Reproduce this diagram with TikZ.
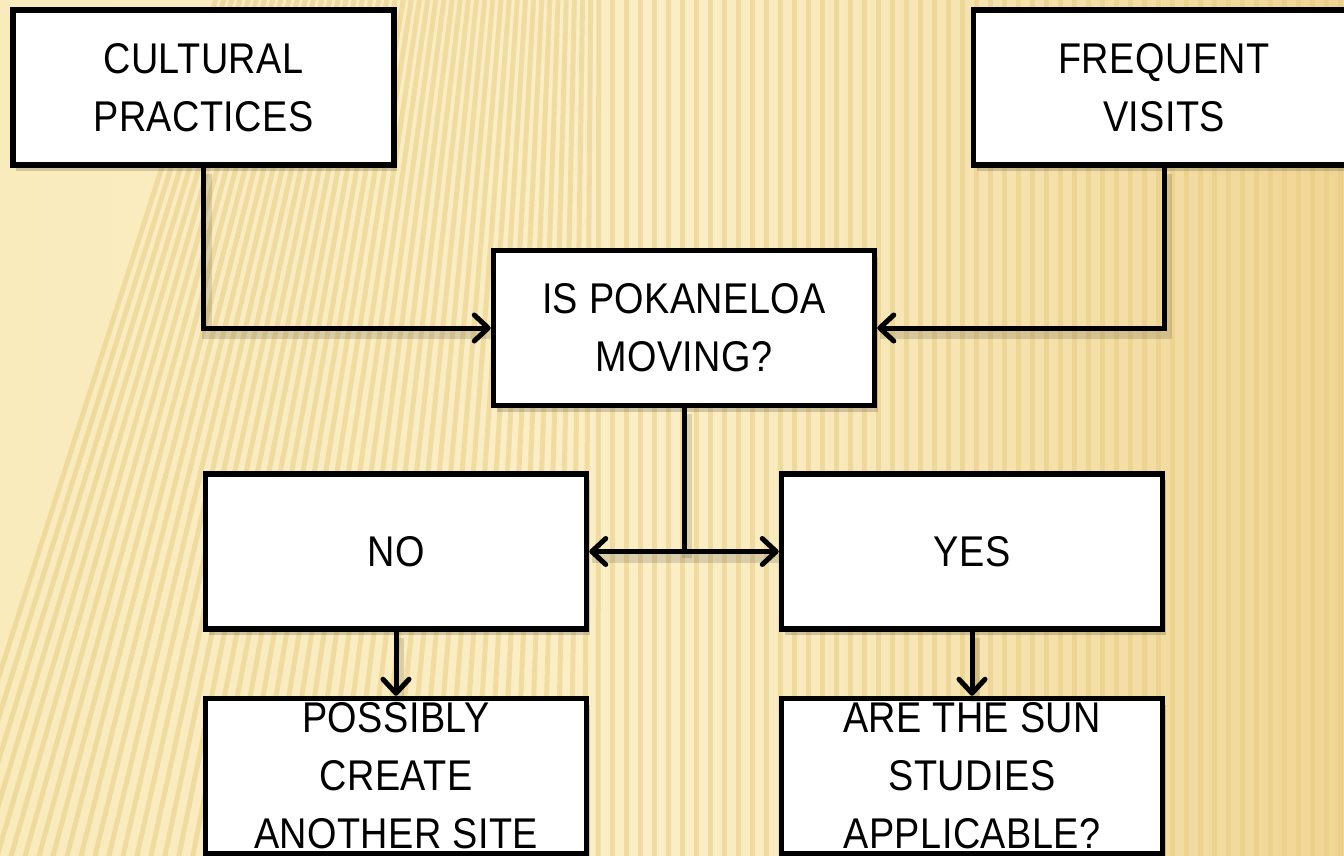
\documentclass[tikz,border=0pt]{standalone}
\usepackage{fontspec}
\newfontfamily\boxfont{Liberation Sans}[FakeStretch=0.88,LetterSpace=1]
\usetikzlibrary{arrows.meta,shadows}
\definecolor{bgL}{HTML}{FAEBBD}
\definecolor{bgM}{HTML}{FBEEC6}
\definecolor{bgR}{HTML}{F0D695}
\definecolor{stripe}{HTML}{E6CB80}
\begin{document}
\begin{tikzpicture}[x=1pt,y=-1pt,
  box/.style={draw=black, line width=5.5pt, fill=white, minimum width=381pt,
    minimum height=155pt, inner sep=0pt, align=center,
    font=\boxfont\fontsize{43}{58}\selectfont,
    drop shadow={shadow xshift=3pt, shadow yshift=-6pt, opacity=0.16, fill=black}},
  conn/.style={line width=5pt, line join=miter,
    -{Straight Barb[length=14pt,width=26pt,round]},
    preaction={draw=black, opacity=0.13, line width=10pt, arrows=-,
      transform canvas={shift={(3pt,-6pt)}}}},
  link/.style={line width=5pt,
    preaction={draw=black, opacity=0.13, line width=10pt,
      transform canvas={shift={(3pt,-6pt)}}}}]
\useasboundingbox (0,0) rectangle (1344,855);
\begin{scope}
\clip (0,0) rectangle (1344,855);
\shade[left color=bgL, right color=bgR, middle color=bgM] (0,0) rectangle (1344,855);
\foreach \i in {0,...,105}{
  \pgfmathsetmacro\xx{\i*14-60}
  \pgfmathsetmacro\tt{max(0,600-\xx)*0.42}
  \draw[stripe, opacity=0.5, line width=5pt] (\xx,860) -- (\xx+\tt,-5);
}
\end{scope}

\node[box] (cult) at (203.5,87.5) {CULTURAL\\PRACTICES};
\node[box] (freq) at (1164,87.5) {FREQUENT\\VISITS};
\node[box] (is) at (684,328) {IS POKANELOA\\MOVING?};
\node[box] (no) at (396,551.5) {NO};
\node[box] (yes) at (972,551.5) {YES};
\node[box] (poss) at (396,776) {POSSIBLY\\CREATE\\ANOTHER SITE};
\node[box] (sun) at (972,776) {ARE THE SUN\\STUDIES\\APPLICABLE?};

\coordinate (split) at (is.south |- no.east);

\draw[conn] (cult.south) |- (is.west);
\draw[conn] (freq.south) |- (is.east);
\draw[link] (is.south) -- (split);
\draw[conn] (split) -- (no.east);
\draw[conn] (split) -- (yes.west);
\draw[conn] (no.south) -- (poss.north);
\draw[conn] (yes.south) -- (sun.north);
\end{tikzpicture}
\end{document}
